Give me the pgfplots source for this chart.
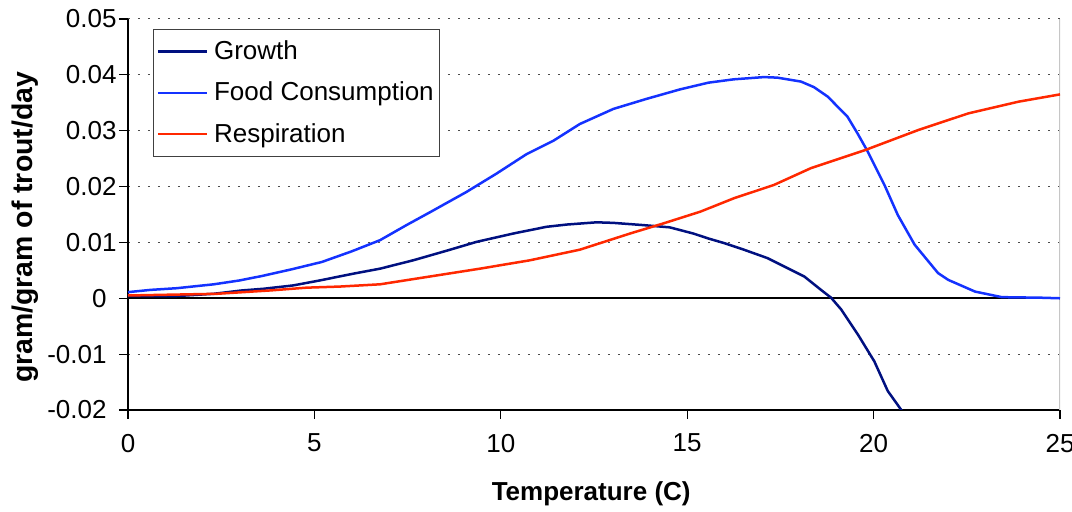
\documentclass[border=0pt]{standalone}
\usepackage{fontspec}
\setmainfont{Liberation Sans}
\usepackage{pgfplots}
\pgfplotsset{compat=1.18}
\definecolor{growth}{RGB}{0,16,128}
\definecolor{food}{RGB}{20,50,255}
\definecolor{resp}{RGB}{255,40,0}
\newcommand{\fs}{\fontsize{13}{15.6}\selectfont}
\begin{document}
\begin{tikzpicture}
\begin{axis}[
  scale only axis,
  width=466pt, height=195.5pt,
  xmin=0, xmax=25, ymin=-0.02, ymax=0.05,
  axis x line*=bottom, axis y line*=left,
  axis line style={black, line width=0.6pt},
  tick align=outside,
  major tick length=4.5pt,
  tick style={black, line width=0.6pt},
  scaled y ticks=false,
  xtick={0,5,10,15,20,25},
  xticklabels={0,5,10,15,20,25},
  ytick={-0.02,-0.01,0,0.01,0.02,0.03,0.04,0.05},
  yticklabels={-0.02\rule{5pt}{0pt},-0.01\rule{5pt}{0pt},0\rule{5pt}{0pt},0.01,0.02,0.03,0.04,0.05},
  ticklabel style={font=\fs},
  yticklabel style={inner xsep=1pt},
  xticklabel style={yshift=-4pt},
  ymajorgrids,
  grid style={black!70, line width=0.5pt, dash pattern=on 1pt off 4pt},
  xlabel={\bfseries Temperature (C)},
  ylabel={\bfseries gram/gram of trout/day},
  every axis x label/.style={at={(axis description cs:0.497,-0.215)}, anchor=center, font=\fs},
  every axis y label/.style={at={(axis description cs:-0.1105,0.467)}, anchor=center, rotate=90, font=\fontsize{14.2}{17}\selectfont},
  legend cell align=left,
  legend style={at={(axis description cs:0.0268,0.9744)}, anchor=north west,
    draw=black!75, line width=0.6pt, fill=white, font=\fs,
    inner xsep=1.5pt, inner ysep=3.5pt, row sep=5.75pt,
    nodes={inner xsep=1.5pt, inner ysep=2pt}},
  legend image code/.code={\draw[#1] (0.5pt,0pt) -- (25pt,0pt); \path (26.5pt,0pt);},
]
\coordinate (SW) at (rel axis cs:0,0);
\coordinate (NE) at (rel axis cs:1,1);
\addplot[gray!45, line width=1.5pt, forget plot] coordinates {(25,-0.02) (25,0.05)};
\addplot[black, line width=1pt, forget plot] coordinates {(0,0) (25,0)};
\addplot[growth, line width=1.25pt] coordinates {
(0,0.0004) (1.3,0.0004) (2.3,0.0008) (3.05,0.0014) (3.63,0.0017) (4.43,0.0023)
(5.15,0.0032) (6.04,0.0044) (6.76,0.0053) (7.65,0.0068) (8.54,0.0085) (9.35,0.0101)
(10.34,0.0116) (11.23,0.0128) (11.77,0.0132) (12.57,0.0136) (13.02,0.0135) (13.82,0.0131)
(14.53,0.0127) (15.16,0.0116) (15.57,0.0107) (15.98,0.0099) (16.52,0.0087) (17.15,0.0072)
(17.69,0.0054) (18.14,0.0039) (18.59,0.0015) (18.86,0.0001) (19.13,-0.0020) (19.58,-0.0065)
(20.02,-0.0113) (20.38,-0.0166) (20.85,-0.0210)};
\addlegendentry{Growth}
\addplot[food, line width=1.25pt] coordinates {
(0,0.0011) (0.6,0.0015) (1.3,0.0018) (2.3,0.0025) (3.0,0.0032) (3.6,0.0040)
(4.4,0.0052) (5.2,0.0065) (6.0,0.0084) (6.76,0.0104) (7.47,0.0131) (8.1,0.0154)
(9.07,0.0190) (9.88,0.0223) (10.69,0.0258) (11.41,0.0282) (12.12,0.0312) (13.02,0.0339)
(13.91,0.0357) (14.81,0.0374) (15.57,0.0386) (16.25,0.0392) (17.06,0.0396) (17.42,0.0395)
(18.05,0.0388) (18.4,0.0378) (18.77,0.0361) (19.3,0.0325) (19.57,0.0295) (19.84,0.0263)
(20.29,0.0203) (20.65,0.0149) (21.1,0.0096) (21.73,0.0045) (22.0,0.0033) (22.72,0.0012)
(23.44,0.0002) (24.5,0.0001) (25,0.0000)};
\addlegendentry{Food Consumption}
\addplot[resp, line width=1.25pt] coordinates {
(0,0.0005) (2.38,0.0008) (3.81,0.0014) (4.79,0.0019) (5.69,0.0021) (6.76,0.0025)
(8.1,0.0039) (9.44,0.0053) (10.78,0.0068) (12.12,0.0087) (13.47,0.0116) (14.36,0.0134)
(15.35,0.0155) (16.25,0.0179) (17.33,0.0203) (18.32,0.0233) (19.76,0.0265) (21.19,0.0301)
(22.54,0.0331) (23.89,0.0352) (25,0.0365)};
\addlegendentry{Respiration}
\end{axis}
\pgfresetboundingbox
\path ([shift={(-64pt,-51pt)}]SW) rectangle ([shift={(6pt,9.5pt)}]NE);
\end{tikzpicture}
\end{document}
